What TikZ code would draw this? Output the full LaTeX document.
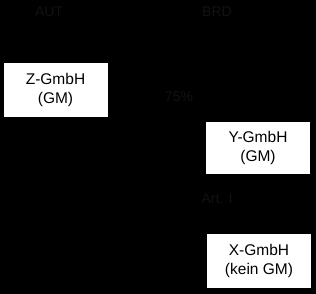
\documentclass[tikz,border=0pt]{standalone}
\usepackage{fontspec}
\setmainfont{Liberation Sans}
\begin{document}
\begin{tikzpicture}[
  x=1pt, y=-1pt,
  firma/.style={rectangle, draw=black, fill=white, minimum width=105pt,
                minimum height=55pt, align=center,
                font=\fontsize{15.5}{19}\selectfont},
  lab/.style={text=black!93, font=\fontsize{14}{16}\selectfont},
  beteil/.style={->, thick, black}
]
  % Hintergrund
  \fill[black] (0,0) rectangle (316,294);
  \useasboundingbox (0,0) rectangle (316,294);

  % Laender
  \node[lab] (aut) at (49, 12) {AUT};
  \node[lab] (brd) at (217, 12) {BRD};

  % Gesellschaften
  \node[firma] (gz) at (55.5, 90) {Z-GmbH\\(GM)};
  \node[firma, minimum height=53.5pt] (gy) at (258, 147.5) {Y-GmbH\\(GM)};
  \node[firma] (gx) at (259, 261) {X-GmbH\\(kein GM)};

  % Beteiligungen
  \draw[beteil] (gz.east) -- (gy.north west);
  \draw[beteil] (gy) -- (gx);

  % Beschriftungen
  \node[lab] (quote) at (179, 97) {75\%};
  \node[lab] (art) at (217, 199) {Art. I};
\end{tikzpicture}
\end{document}
